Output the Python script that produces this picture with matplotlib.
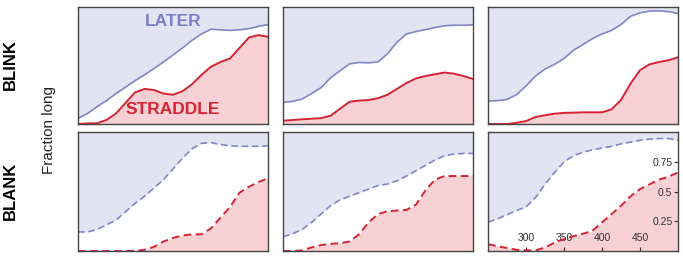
import numpy as np
import matplotlib
matplotlib.use("Agg")
import matplotlib.pyplot as plt

plt.rcParams['font.family'] = ['Liberation Sans', 'DejaVu Sans']

# time (ms) sampled every 12.5
t = [250, 262.5, 275, 287.5, 300, 312.5, 325, 337.5, 350, 362.5, 375,
     387.5, 400, 412.5, 425, 437.5, 450, 462.5, 475, 487.5, 500]

# BLINK row
blink_later = [
    [0.048, 0.09, 0.148, 0.20, 0.26, 0.315, 0.37, 0.42, 0.475, 0.53, 0.59,
     0.65, 0.715, 0.77, 0.81, 0.805, 0.80, 0.805, 0.815, 0.835, 0.85],
    [0.185, 0.193, 0.213, 0.26, 0.31, 0.395, 0.455, 0.514, 0.526, 0.523, 0.53,
     0.60, 0.70, 0.77, 0.79, 0.807, 0.824, 0.84, 0.844, 0.844, 0.847],
    [0.196, 0.20, 0.21, 0.25, 0.325, 0.41, 0.47, 0.51, 0.56, 0.63, 0.68,
     0.73, 0.77, 0.80, 0.85, 0.92, 0.95, 0.965, 0.968, 0.96, 0.945],
]
blink_straddle = [
    [0.0, 0.005, 0.006, 0.035, 0.09, 0.18, 0.27, 0.30, 0.29, 0.26, 0.25,
     0.28, 0.34, 0.42, 0.49, 0.53, 0.56, 0.65, 0.74, 0.76, 0.745],
    [0.028, 0.034, 0.04, 0.045, 0.05, 0.07, 0.13, 0.19, 0.20, 0.205, 0.22,
     0.25, 0.30, 0.35, 0.39, 0.41, 0.425, 0.44, 0.43, 0.41, 0.385],
    [0.0, 0.0, 0.0, 0.01, 0.025, 0.06, 0.075, 0.088, 0.095, 0.097, 0.10,
     0.10, 0.10, 0.125, 0.205, 0.345, 0.46, 0.51, 0.53, 0.545, 0.57],
]

# BLANK row
blank_later = [
    [0.16, 0.16, 0.18, 0.22, 0.26, 0.33, 0.40, 0.46, 0.53, 0.60, 0.69,
     0.78, 0.86, 0.905, 0.91, 0.895, 0.885, 0.88, 0.88, 0.88, 0.885],
    [0.12, 0.145, 0.18, 0.24, 0.31, 0.38, 0.43, 0.46, 0.49, 0.52, 0.55,
     0.563, 0.59, 0.63, 0.675, 0.72, 0.765, 0.80, 0.815, 0.82, 0.82],
    [0.243, 0.27, 0.305, 0.34, 0.37, 0.45, 0.56, 0.66, 0.75, 0.80, 0.83,
     0.85, 0.865, 0.88, 0.90, 0.915, 0.93, 0.94, 0.945, 0.945, 0.93],
]
blank_straddle = [
    [0.0, 0.0, 0.0, 0.0, 0.0, 0.0, 0.002, 0.01, 0.035, 0.08, 0.11,
     0.13, 0.14, 0.14, 0.19, 0.28, 0.37, 0.49, 0.54, 0.58, 0.61],
    [0.0, 0.0, 0.005, 0.03, 0.05, 0.06, 0.065, 0.08, 0.14, 0.24, 0.31,
     0.335, 0.34, 0.345, 0.39, 0.51, 0.60, 0.63, 0.63, 0.63, 0.63],
    [0.057, 0.04, 0.025, 0.01, 0.006, 0.005, 0.03, 0.07, 0.10, 0.125, 0.145,
     0.17, 0.24, 0.31, 0.38, 0.46, 0.52, 0.56, 0.60, 0.625, 0.66],
]

xticks = [300, 350, 400, 450]
yticks = [0.25, 0.5, 0.75]
ytick_labels = ['0.25', '0.5', '0.75']

blue_fill = '#e3e4f3'
blue_line = '#8386c6'
red_fill = '#f9d0d4'
red_line = '#d42434'
spine_col = '#444444'

fig = plt.figure(figsize=(6.83, 2.69), dpi=100)
W, H = 683.0, 269.0
cols = [78, 283, 488]
rows = [(7, 124), (132, 251)]
axes = []
for r, (top, bot) in enumerate(rows):
    for c, left in enumerate(cols):
        ax = fig.add_axes([left / W, 1 - bot / H, 190 / W, (bot - top) / H])
        axes.append(ax)
        if r == 0:
            later, strad, ls = blink_later[c], blink_straddle[c], '-'
        else:
            later, strad, ls = blank_later[c], blank_straddle[c], (0, (4, 2.2))
        ax.fill_between(t, later, 1, color=blue_fill, lw=0)
        ax.fill_between(t, 0, strad, color=red_fill, lw=0)
        ax.plot(t, later, color=blue_line, lw=1.2, ls=ls)
        ax.plot(t, strad, color=red_line, lw=1.4, ls=ls)
        ax.set_xlim(250, 500)
        ax.set_ylim(0, 1)
        for s in ax.spines.values():
            s.set_color(spine_col)
            s.set_linewidth(1.0)
        ax.set_xticks([])
        ax.set_yticks([])

# labels in first panel
axes[0].text(375, 0.88, 'LATER', color='#7a7ec8', fontsize=12.5,
             fontweight='bold', ha='center', va='center')
axes[0].text(375, 0.12, 'STRADDLE', color=red_line, fontsize=12.5,
             fontweight='bold', ha='center', va='center')

# ticks inside the bottom-right panel
ax = axes[5]
ax.set_xticks(xticks)
ax.set_xticklabels([str(v) for v in xticks])
ax.tick_params(axis='x', direction='in', length=3, width=0.8, pad=-13,
               labelsize=7.5, colors='#333333')
ax.yaxis.tick_right()
ax.set_yticks(yticks)
ax.set_yticklabels(ytick_labels)
ax.tick_params(axis='y', direction='in', length=3, width=0.8, pad=-4,
               labelsize=7.5, colors='#333333')
for lab in ax.get_yticklabels():
    lab.set_ha('right')

fig.text(10 / W, 1 - 65 / H, 'BLINK', rotation=90, fontsize=12,
         fontweight='bold', ha='center', va='center')
fig.text(10 / W, 1 - 191 / H, 'BLANK', rotation=90, fontsize=12,
         fontweight='bold', ha='center', va='center')
fig.text(49 / W, 1 - 130 / H, 'Fraction long', rotation=90, fontsize=11,
         ha='center', va='center', color='#222222')

fig.savefig('out.png', dpi=100)
